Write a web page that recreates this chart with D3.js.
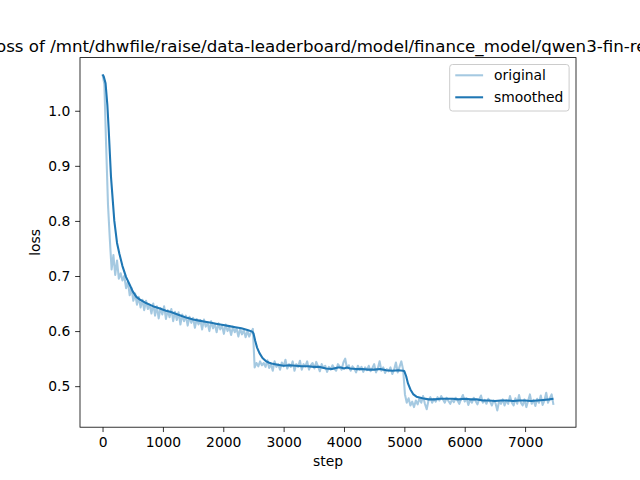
<!DOCTYPE html>
<html>
<head>
<meta charset="utf-8">
<script src="https://cdn.jsdelivr.net/npm/d3@7"></script>
<style>
  body { margin: 0; background: #fff; }
  svg text { font-family: "DejaVu Sans", sans-serif; fill: #000; }
</style>
</head>
<body>
<svg id="chart"></svg>
<script>
// logged every 30 steps
const logEvery = 30;

// original loss, steps 0..2490
const lossSeg1 = [
  1.066, 1.048, 0.935, 0.83, 0.768, 0.712, 0.738, 0.702, 0.728, 0.695,
  0.705, 0.692, 0.70, 0.678, 0.69, 0.665, 0.678, 0.655, 0.668, 0.648,
  0.662, 0.643, 0.657, 0.638, 0.655, 0.64, 0.648, 0.632, 0.65, 0.628,
  0.645, 0.623, 0.642, 0.63, 0.645, 0.622, 0.638, 0.625, 0.64, 0.618,
  0.635, 0.62, 0.634, 0.612, 0.63, 0.618, 0.628, 0.61, 0.626, 0.615,
  0.624, 0.606, 0.622, 0.612, 0.62, 0.603, 0.621, 0.608, 0.615, 0.60,
  0.618, 0.605, 0.613, 0.598, 0.614, 0.603, 0.61, 0.595, 0.612, 0.60,
  0.607, 0.593, 0.608, 0.598, 0.605, 0.59, 0.604, 0.594, 0.602, 0.589,
  0.60, 0.59, 0.598, 0.604
];
// steps 2520..4980
const lossSeg2 = [
  0.534, 0.542, 0.536, 0.545, 0.538, 0.542, 0.535, 0.547, 0.533, 0.54,
  0.528, 0.545, 0.535, 0.54, 0.53, 0.543, 0.536, 0.548, 0.532, 0.54,
  0.535, 0.545, 0.528, 0.54, 0.535, 0.546, 0.53, 0.54, 0.536, 0.545,
  0.53, 0.538, 0.542, 0.532, 0.544, 0.536, 0.527, 0.54, 0.533, 0.537,
  0.526, 0.535, 0.53, 0.538, 0.532, 0.528, 0.54, 0.535, 0.53, 0.543,
  0.55, 0.532, 0.538, 0.528, 0.536, 0.532, 0.525, 0.537, 0.53, 0.535,
  0.526, 0.534, 0.529, 0.537, 0.527, 0.533, 0.54, 0.525, 0.532, 0.545,
  0.528, 0.534, 0.524, 0.531, 0.527, 0.534, 0.522, 0.53, 0.543, 0.525,
  0.535, 0.545, 0.53
];
// steps 5010..7470
const lossSeg3 = [
  0.485, 0.47, 0.478, 0.465, 0.472, 0.462, 0.474, 0.467, 0.478, 0.47,
  0.482, 0.468, 0.458, 0.474, 0.48, 0.47, 0.477, 0.472, 0.48, 0.474,
  0.482, 0.476, 0.47, 0.479, 0.473, 0.468, 0.476, 0.471, 0.479, 0.474,
  0.468, 0.477, 0.484, 0.472, 0.478, 0.466, 0.475, 0.47, 0.479, 0.473,
  0.467, 0.476, 0.483, 0.47, 0.475, 0.468, 0.477, 0.472, 0.465, 0.474,
  0.469, 0.456, 0.473, 0.468, 0.476, 0.465, 0.474, 0.468, 0.482, 0.47,
  0.465, 0.478, 0.468, 0.484, 0.47, 0.465, 0.476, 0.462, 0.473, 0.485,
  0.468, 0.475, 0.464, 0.477, 0.47, 0.483, 0.466, 0.474, 0.488, 0.47,
  0.478, 0.485, 0.466
];

// smoothed curve, read at selected steps
const smoothSteps = [
  0, 20, 50, 80, 100, 140, 195, 240, 280, 330, 390, 450, 500, 560, 620, 700, 780, 860, 950,
  1050, 1120, 1200, 1300, 1400, 1500, 1600, 1700, 1800, 1900, 2000, 2100, 2200, 2300, 2400,
  2480, 2500, 2530, 2560, 2600, 2650, 2700, 2750, 2800, 2900, 3000, 3100, 3200, 3300, 3400,
  3500, 3600, 3700, 3800, 3900, 3950, 4000, 4050, 4100, 4200, 4300, 4400, 4500, 4600, 4700,
  4800, 4900, 4980, 5000, 5030, 5060, 5100, 5150, 5200, 5300, 5400, 5500, 5600, 5700, 5800,
  5900, 6000, 6100, 6200, 6300, 6400, 6500, 6600, 6700, 6800, 6900, 7000, 7100, 7200, 7300,
  7400, 7470
];
const smoothLoss = [
  1.066, 1.062, 1.05, 1.01, 0.97, 0.88, 0.80, 0.76, 0.74, 0.718, 0.698, 0.684, 0.672, 0.662, 0.657, 0.652, 0.648, 0.644, 0.641,
  0.637, 0.635, 0.632, 0.628, 0.624, 0.621, 0.619, 0.617, 0.615, 0.613, 0.611, 0.609, 0.607, 0.605, 0.602,
  0.599, 0.596, 0.582, 0.570, 0.560, 0.551, 0.546, 0.543, 0.541, 0.539, 0.537, 0.538, 0.537, 0.536, 0.536,
  0.535, 0.535, 0.532, 0.531, 0.534, 0.534, 0.532, 0.534, 0.532, 0.531, 0.531, 0.530, 0.530, 0.531, 0.529,
  0.528, 0.529, 0.528, 0.527, 0.518, 0.505, 0.494, 0.485, 0.481, 0.478, 0.476, 0.476, 0.477, 0.477, 0.477,
  0.476, 0.477, 0.476, 0.476, 0.474, 0.474, 0.473, 0.474, 0.474, 0.473, 0.474, 0.474, 0.473, 0.474, 0.475,
  0.476, 0.477
];

const xTicks = [0, 1000, 2000, 3000, 4000, 5000, 6000, 7000];
const yTicks = [0.5, 0.6, 0.7, 0.8, 0.9, 1.0];

const titleText = "Loss of /mnt/dhwfile/raise/data-leaderboard/model/finance_model/qwen3-fin-rea";
const seriesNames = ["original", "smoothed"];

const W = 640, H = 480;
const margin = {top: 57.6, right: 64, bottom: 52.8, left: 80};
const iw = W - margin.left - margin.right;
const ih = H - margin.top - margin.bottom;
const blue = "#1f77b4";
const fs = "13.89px";   // 10pt at 100 dpi

const original = lossSeg1.concat(lossSeg2, lossSeg3).map((v, i) => ({step: i * logEvery, loss: v}));
const smoothed = smoothSteps.map((s, i) => ({step: s, loss: smoothLoss[i]}));

const svg = d3.select("#chart").attr("width", W).attr("height", H);

// matplotlib style 5% padding
function pad(ext) {
  const d = (ext[1] - ext[0]) * 0.05;
  return [ext[0] - d, ext[1] + d];
}
const all = original.concat(smoothed);
const x = d3.scaleLinear().domain(pad(d3.extent(all, d => d.step))).range([0, iw]);
const y = d3.scaleLinear().domain(pad(d3.extent(all, d => d.loss))).range([ih, 0]);

const g = svg.append("g").attr("transform", `translate(${margin.left},${margin.top})`);

g.append("clipPath").attr("id", "clip")
  .append("rect").attr("width", iw).attr("height", ih);

const line = d3.line().x(d => x(d.step)).y(d => y(d.loss));

g.append("path").datum(original)
  .attr("clip-path", "url(#clip)")
  .attr("fill", "none").attr("stroke", blue).attr("stroke-opacity", 0.4)
  .attr("stroke-width", 2.08).attr("stroke-linejoin", "round")
  .attr("d", line);

g.append("path").datum(smoothed)
  .attr("clip-path", "url(#clip)")
  .attr("fill", "none").attr("stroke", blue)
  .attr("stroke-width", 2.08).attr("stroke-linejoin", "round")
  .attr("d", line);

// axes
const xAxis = g.append("g").attr("transform", `translate(0,${ih})`)
  .call(d3.axisBottom(x).tickValues(xTicks).tickFormat(d3.format("d")).tickSize(4.86).tickPadding(4.86));
const yAxis = g.append("g")
  .call(d3.axisLeft(y).tickValues(yTicks).tickFormat(d3.format(".1f")).tickSize(4.86).tickPadding(4.86));
[xAxis, yAxis].forEach(a => {
  a.select(".domain").remove();
  a.selectAll("line").attr("stroke", "#000").attr("stroke-width", 0.8);
  a.selectAll("text").attr("font-size", fs).attr("font-family", "DejaVu Sans").attr("fill", "#000");
});

// spines
g.append("rect").attr("width", iw).attr("height", ih)
  .attr("fill", "none").attr("stroke", "#000").attr("stroke-width", 0.8);

// labels
svg.append("text")
  .attr("x", margin.left + iw / 2).attr("y", 466)
  .attr("text-anchor", "middle").attr("font-size", fs)
  .text("step");

svg.append("text")
  .attr("transform", `translate(40,${margin.top + ih / 2}) rotate(-90)`)
  .attr("text-anchor", "middle").attr("font-size", fs)
  .text("loss");

svg.append("text")
  .attr("x", -13).attr("y", 51.5)
  .attr("font-size", "16.67px")
  .text(titleText);

// legend
const lg = svg.append("g").attr("transform", "translate(449.7,64.5)");
lg.append("rect").attr("width", 119.4).attr("height", 46.5).attr("rx", 2.8)
  .attr("fill", "#fff").attr("fill-opacity", 0.8)
  .attr("stroke", "#cccccc").attr("stroke-width", 1);
seriesNames.forEach((name, i) => {
  const ly = 10.8 + i * 22;
  lg.append("line").attr("x1", 5.56).attr("x2", 33.4).attr("y1", ly).attr("y2", ly)
    .attr("stroke", blue).attr("stroke-width", 2.08)
    .attr("stroke-opacity", i === 0 ? 0.4 : 1);
  lg.append("text").attr("x", 44.4).attr("y", ly + 5)
    .attr("font-size", fs).text(name);
});
</script>
</body>
</html>
